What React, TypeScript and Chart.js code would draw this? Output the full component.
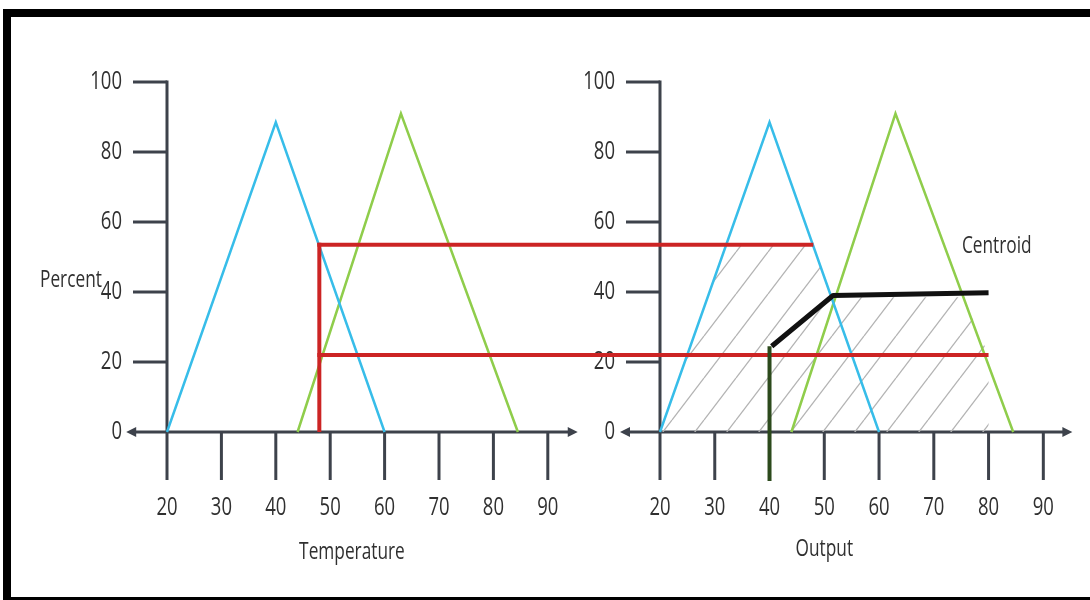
import { useEffect, useRef } from 'react';
import { Chart, registerables } from 'chart.js';

Chart.register(...registerables);

// ---- data ----
const xTickLabels = [20, 30, 40, 50, 60, 70, 80, 90];
const yTickLabels = [0, 20, 40, 60, 80, 100];

// input (Temperature) membership functions
const tempLowX = [20, 40, 60];
const tempLowY = [0, 88.5, 0];
const tempHighX = [44, 63, 84.5];
const tempHighY = [0, 91, 0];

// output membership functions
const outLowX = [20, 40, 60];
const outLowY = [0, 88.5, 0];
const outHighX = [44, 63, 84.5];
const outHighY = [0, 91, 0];

// fuzzification of the input
const inputTemp = 48;
const degreeLevels = [53.5, 22];
const degreeEnds = [48, 80];

// aggregated (clipped) output region
const aggX = [20, 32.1, 48, 51.4, 75.4, 80, 80];
const aggY = [0, 53.5, 53.5, 38.5, 38.5, 22, 0];

// centroid marker
const centroidDropX = [40, 40];
const centroidDropY = [-14, 24.5];
const centroidPathX = [40.4, 51.6, 80];
const centroidPathY = [24.5, 39, 39.8];
const centroidLabel = { x: 81.5, y: 53, text: 'Centroid' };

const BLUE = '#37bde9';
const GREEN = '#8fcd4b';
const RED = '#cc2424';
const AXIS = '#3d424b';
const TEXT = '#303030';

const pts = (xs: number[], ys: number[]) => xs.map((x, i) => ({ x, y: ys[i] }));

function drawText(ctx: CanvasRenderingContext2D, text: string, x: number, y: number, align: CanvasTextAlign, size = 25, sx = 0.74) {
  ctx.save();
  ctx.translate(x, y);
  ctx.scale(sx, 1);
  ctx.font = `${size}px "Open Sans", sans-serif`;
  ctx.textAlign = align;
  ctx.textBaseline = 'middle';
  ctx.fillStyle = TEXT;
  ctx.fillText(text, 0, 0);
  ctx.restore();
}

function seg(ctx: CanvasRenderingContext2D, x1: number, y1: number, x2: number, y2: number) {
  ctx.beginPath();
  ctx.moveTo(x1, y1);
  ctx.lineTo(x2, y2);
  ctx.stroke();
}

function drawPanel(ctx: CanvasRenderingContext2D, sx: any, sy: any, lo: number, hi: number, title: string, titleAt: number, titleDy: number) {
  const x0 = sx.getPixelForValue(20);
  const y0 = sy.getPixelForValue(0);
  const yTop = sy.getPixelForValue(100);
  ctx.save();
  ctx.strokeStyle = AXIS;
  ctx.fillStyle = AXIS;
  ctx.lineWidth = 3;
  seg(ctx, x0, y0, x0, yTop - 1.5);
  yTickLabels.forEach((v) => {
    const y = sy.getPixelForValue(v);
    if (v > 0) seg(ctx, x0 - 34, y, x0, y);
    drawText(ctx, String(v), x0 - 45, y, 'right');
  });
  const xl = sx.getPixelForValue(lo);
  const xr = sx.getPixelForValue(hi);
  seg(ctx, xl + 6, y0, xr - 6, y0);
  ctx.beginPath();
  ctx.moveTo(xl, y0);
  ctx.lineTo(xl + 10, y0 - 5);
  ctx.lineTo(xl + 10, y0 + 5);
  ctx.closePath();
  ctx.fill();
  ctx.beginPath();
  ctx.moveTo(xr, y0);
  ctx.lineTo(xr - 10, y0 - 5);
  ctx.lineTo(xr - 10, y0 + 5);
  ctx.closePath();
  ctx.fill();
  xTickLabels.forEach((v) => {
    const x = sx.getPixelForValue(v);
    seg(ctx, x, y0, x, y0 + 48);
    drawText(ctx, String(v), x, y0 + 76, 'center');
  });
  drawText(ctx, title, sx.getPixelForValue(titleAt), y0 + 120 + titleDy, 'center', 24, 0.72);
  ctx.restore();
}

const fuzzyPlugin = {
  id: 'fuzzyDecor',
  beforeDatasetsDraw(chart: any) {
    const { ctx } = chart;
    const sy = chart.scales.y;
    drawPanel(ctx, chart.scales.x, sy, 12.5, 95.5, 'Temperature', 54, 0);
    drawPanel(ctx, chart.scales.x2, sy, 12.7, 95.3, 'Output', 50, -3);
    drawText(ctx, 'Percent', chart.scales.x.getPixelForValue(20) - 127, sy.getPixelForValue(40) - 12, 'left', 24, 0.72);
    drawText(ctx, centroidLabel.text, chart.scales.x2.getPixelForValue(centroidLabel.x), sy.getPixelForValue(centroidLabel.y), 'center', 24, 0.72);
  },
  beforeDatasetDraw(chart: any, args: any) {
    if (args.index !== 1) return;
    const { ctx } = chart;
    const sx = chart.scales.x;
    const sx2 = chart.scales.x2;
    const sy = chart.scales.y;
    ctx.save();
    ctx.strokeStyle = RED;
    ctx.lineWidth = 4;
    ctx.lineCap = 'butt';
    const xi = sx.getPixelForValue(inputTemp);
    seg(ctx, xi, sy.getPixelForValue(0), xi, sy.getPixelForValue(degreeLevels[0]) - 2);
    degreeLevels.forEach((lv, i) => {
      const y = sy.getPixelForValue(lv);
      seg(ctx, xi - 2, y, sx2.getPixelForValue(degreeEnds[i]), y);
    });
    ctx.restore();
  },
  afterDraw(chart: any) {
    const { ctx } = chart;
    ctx.save();
    ctx.fillStyle = '#000';
    ctx.fillRect(3, 9, 1087, 8);
    ctx.fillRect(3, 9, 8, 591);
    ctx.fillRect(3, 597, 1087, 3);
    ctx.restore();
  },
};

export default function App() {
  const ref = useRef<HTMLCanvasElement | null>(null);
  useEffect(() => {
    const canvas = ref.current;
    if (!canvas) return;
    const ctx = canvas.getContext('2d')!;
    const pc = document.createElement('canvas');
    pc.width = 32;
    pc.height = 42;
    const g = pc.getContext('2d')!;
    g.strokeStyle = '#b3b3b3';
    g.lineWidth = 1.3;
    for (const off of [-32, 0, 32]) {
      g.beginPath();
      g.moveTo(off, 42);
      g.lineTo(off + 32, 0);
      g.stroke();
    }
    const hatch = ctx.createPattern(pc, 'repeat')!;

    const line = (data: any, color: string, width: number, xAxisID: string) => ({
      data,
      borderColor: color,
      borderWidth: width,
      pointRadius: 0,
      tension: 0,
      fill: false,
      xAxisID,
      yAxisID: 'y',
    });

    const chart = new Chart(ctx, {
      type: 'line',
      data: {
        datasets: [
          { ...line(pts(centroidPathX, centroidPathY), '#111111', 5, 'x2'), borderJoinStyle: 'round' },
          line(pts(centroidDropX, centroidDropY), '#2c4a1c', 4, 'x2'),
          line(pts(tempLowX, tempLowY), BLUE, 2.5, 'x'),
          line(pts(tempHighX, tempHighY), GREEN, 2.5, 'x'),
          line(pts(outLowX, outLowY), BLUE, 2.5, 'x2'),
          line(pts(outHighX, outHighY), GREEN, 2.5, 'x2'),
          {
            ...line(pts(aggX, aggY), 'rgba(0,0,0,0)', 0, 'x2'),
            fill: 'shape',
            backgroundColor: hatch,
          },
        ] as any,
      },
      options: {
        animation: false,
        responsive: false,
        devicePixelRatio: 1,
        events: [],
        layout: { padding: 0, autoPadding: false } as any,
        plugins: { legend: { display: false }, tooltip: { enabled: false } },
        scales: {
          x: { type: 'linear', display: false, min: -10.699, max: 189.669 },
          x2: { type: 'linear', display: false, min: -100.526, max: 98.524 },
          y: { type: 'linear', display: false, min: -48, max: 123.43 },
        },
      },
      plugins: [fuzzyPlugin],
    });
    return () => chart.destroy();
  }, []);

  return (
    <div style={{ position: 'fixed', left: 0, top: 0, width: 1090, height: 600, background: '#fff' }}>
      <canvas ref={ref} width={1090} height={600} style={{ display: 'block' }} />
    </div>
  );
}
